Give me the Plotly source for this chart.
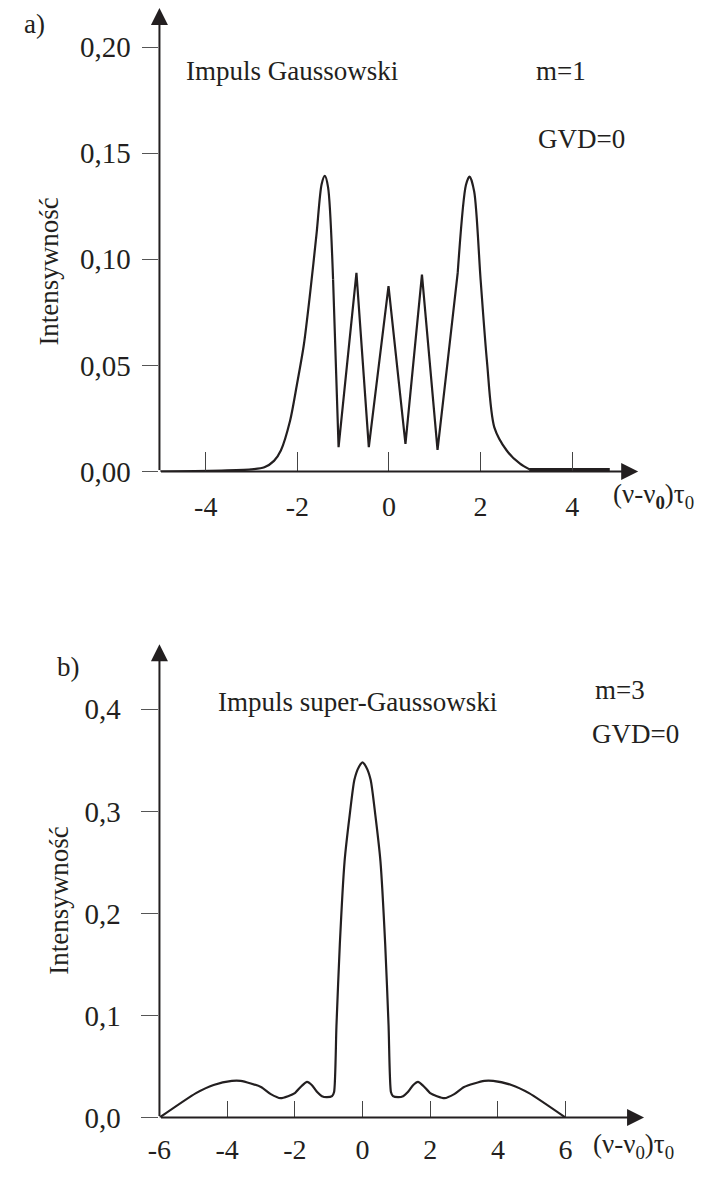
import plotly.graph_objects as go

# ---------------- data ----------------
# panel a) Gaussian pulse, m=1, GVD=0
top_x = [-5.0, -3.01, -2.72, -2.51, -2.36, -2.16, -2.01, -1.86, -1.72, -1.58, -1.47, -1.40,
         -1.33, -1.22, -1.10, -0.71, -0.44, -0.01, 0.36, 0.72, 1.06, 1.28, 1.50, 1.68,
         1.76, 1.86, 2.00, 2.14, 2.30, 2.57, 2.86, 3.07]
top_y = [0.0, 0.001, 0.002, 0.005, 0.0099, 0.0238, 0.0409, 0.0595, 0.0843, 0.1122, 0.1354, 0.1393,
         0.134, 0.0905, 0.0115, 0.0936, 0.0115, 0.0874, 0.013, 0.0928, 0.0102, 0.0517, 0.0936, 0.135,
         0.139, 0.132, 0.0905, 0.0517, 0.0208, 0.0099, 0.0037, 0.001]
flat_x = [3.06, 4.82]
flat_y = [0.0, 0.0]

# panel b) super-Gaussian pulse, m=3, GVD=0
bot_x = [-6.0, -4.92, -4.4, -3.86, -3.6, -3.0, -2.71, -2.42, -2.2, -2.0, -1.8, -1.64, -1.5,
         -1.34, -1.2, -1.06, -0.9, -0.84, -0.77, -0.67, -0.53, -0.38, -0.24, -0.1, 0.0,
         0.1, 0.24, 0.38, 0.53, 0.67, 0.77, 0.84, 0.9, 1.06, 1.2, 1.34, 1.5, 1.64, 1.8,
         2.0, 2.2, 2.42, 2.71, 3.0, 3.6, 3.86, 4.4, 4.92, 6.0]
bot_y = [0.0, 0.024, 0.032, 0.036, 0.036, 0.030, 0.023, 0.019, 0.021, 0.024, 0.031, 0.035, 0.032,
         0.025, 0.021, 0.020, 0.021, 0.025, 0.090, 0.170, 0.251, 0.296, 0.331, 0.344, 0.348,
         0.344, 0.331, 0.296, 0.251, 0.170, 0.090, 0.025, 0.021, 0.020, 0.021, 0.025, 0.032, 0.035, 0.031,
         0.024, 0.021, 0.019, 0.023, 0.030, 0.036, 0.036, 0.032, 0.024, 0.0]

top_xticks = [-4, -2, 0, 2, 4]
top_xticktext = ["-4", "-2", "0", "2", "4"]
top_yticks = [0.0, 0.05, 0.10, 0.15, 0.20]
top_yticktext = ["0,00", "0,05", "0,10", "0,15", "0,20"]
bot_xticks = [-6, -4, -2, 0, 2, 4, 6]
bot_xticktext = ["-6", "-4", "-2", "0", "2", "4", "6"]
bot_yticks = [0.0, 0.1, 0.2, 0.3, 0.4]
bot_yticktext = ["0,0", "0,1", "0,2", "0,3", "0,4"]

# ---------------- layout constants ----------------
W, H = 707, 1178
FONT = "Liberation Serif, Times New Roman, serif"
INK = "#231f20"
FS = 27
XTFS = 28
YTFS = 29

top_xr = [-5.01, 5.44]
top_yr = [0.0, 0.2185]
bot_xr = [-6.0, 8.32]
bot_yr = [0.0, 0.4638]


def px(x):
    return x / W


def py(y):
    return 1 - y / H


fig = go.Figure()
line_top = dict(color=INK, width=2.2)
# gaussian flanks drawn smooth, the interference zig-zag drawn with straight segments
fig.add_trace(go.Scatter(x=top_x[:14], y=top_y[:14], mode="lines",
                         line=dict(line_top, shape="spline", smoothing=0.8),
                         xaxis="x", yaxis="y", showlegend=False, hoverinfo="skip"))
fig.add_trace(go.Scatter(x=top_x[13:23], y=top_y[13:23], mode="lines", line=line_top,
                         xaxis="x", yaxis="y", showlegend=False, hoverinfo="skip"))
fig.add_trace(go.Scatter(x=top_x[22:], y=top_y[22:], mode="lines",
                         line=dict(line_top, shape="spline", smoothing=0.8),
                         xaxis="x", yaxis="y", showlegend=False, hoverinfo="skip"))
fig.add_trace(go.Scatter(x=flat_x, y=flat_y, mode="lines", line=dict(color=INK, width=7),
                         xaxis="x", yaxis="y", showlegend=False, hoverinfo="skip"))
fig.add_trace(go.Scatter(x=bot_x, y=bot_y, mode="lines",
                         line=dict(color=INK, width=2.2, shape="spline", smoothing=0.6),
                         xaxis="x2", yaxis="y2", showlegend=False, hoverinfo="skip"))

axis_common = dict(showgrid=False, zeroline=False, showline=False, tickmode="array")
xfont = dict(family=FONT, size=XTFS, color=INK)
yfont = dict(family=FONT, size=YTFS, color=INK)

fig.update_layout(
    width=W, height=H, margin=dict(l=0, r=0, t=0, b=0),
    paper_bgcolor="white", plot_bgcolor="white",
    xaxis=dict(domain=[px(150), px(637)], range=top_xr, anchor="y",
               tickvals=top_xticks, ticktext=top_xticktext, ticklabelstandoff=15, tickfont=xfont,
               ticks="inside", ticklen=20, tickwidth=1, tickcolor="#444", **axis_common),
    yaxis=dict(domain=[py(478), py(8)], range=top_yr, anchor="x",
               tickvals=top_yticks, ticktext=top_yticktext, ticklabelstandoff=6, tickfont=yfont,
               ticks="outside", ticklen=16, tickwidth=1, tickcolor="#555", **axis_common),
    xaxis2=dict(domain=[px(150), px(643)], range=bot_xr, anchor="y2",
                tickvals=bot_xticks, ticktext=bot_xticktext, ticklabelstandoff=12, tickfont=xfont,
                ticks="inside", ticklen=17, tickwidth=1, tickcolor="#444", **axis_common),
    yaxis2=dict(domain=[py(1133), py(653)], range=bot_yr, anchor="x2",
                tickvals=bot_yticks, ticktext=bot_yticktext, ticklabelstandoff=15, tickfont=yfont,
                ticks="outside", ticklen=17, tickwidth=1, tickcolor="#555", **axis_common),
)

ann = []
# axis arrows
for xr, yr, xa, ya in [(top_xr, top_yr, "x", "y"), (bot_xr, bot_yr, "x2", "y2")]:
    ann.append(dict(x=xr[1], y=0, ax=xr[0], ay=0, xref=xa, yref=ya, axref=xa, ayref=ya,
                    text="", showarrow=True, arrowhead=2, arrowsize=1.7, arrowwidth=2, arrowcolor=INK))
    ann.append(dict(x=xr[0], y=yr[1], ax=xr[0], ay=0, xref=xa, yref=ya, axref=xa, ayref=ya,
                    text="", showarrow=True, arrowhead=2, arrowsize=1.7, arrowwidth=2, arrowcolor=INK))


def txt(t, x, y, size=FS, angle=0, xanchor="left"):
    ann.append(dict(text=t, x=px(x), y=py(y), xref="paper", yref="paper", showarrow=False,
                    xanchor=xanchor, yanchor="middle", textangle=angle,
                    font=dict(family=FONT, size=size, color=INK)))


txt("a)", 10, 24)
txt("Impuls Gaussowski", 175, 72)
txt("m=1", 531, 72)
txt("GVD=0", 533, 141)
txt("Intensywność", 38, 275, angle=-90, xanchor="center")
txt("(ν-ν<sub><b>0</b></sub>)τ<sub>0</sub>", 609, 503)

txt("b)", 44, 676)
txt("Impuls super-Gaussowski", 208, 712)
txt("m=3", 591, 700)
txt("GVD=0", 588, 744)
txt("Intensywność", 47, 913, angle=-90, xanchor="center")
txt("(ν-ν<sub>0</sub>)τ<sub>0</sub>", 589, 1162)

fig.update_layout(annotations=ann)
fig.write_html("out.html")
